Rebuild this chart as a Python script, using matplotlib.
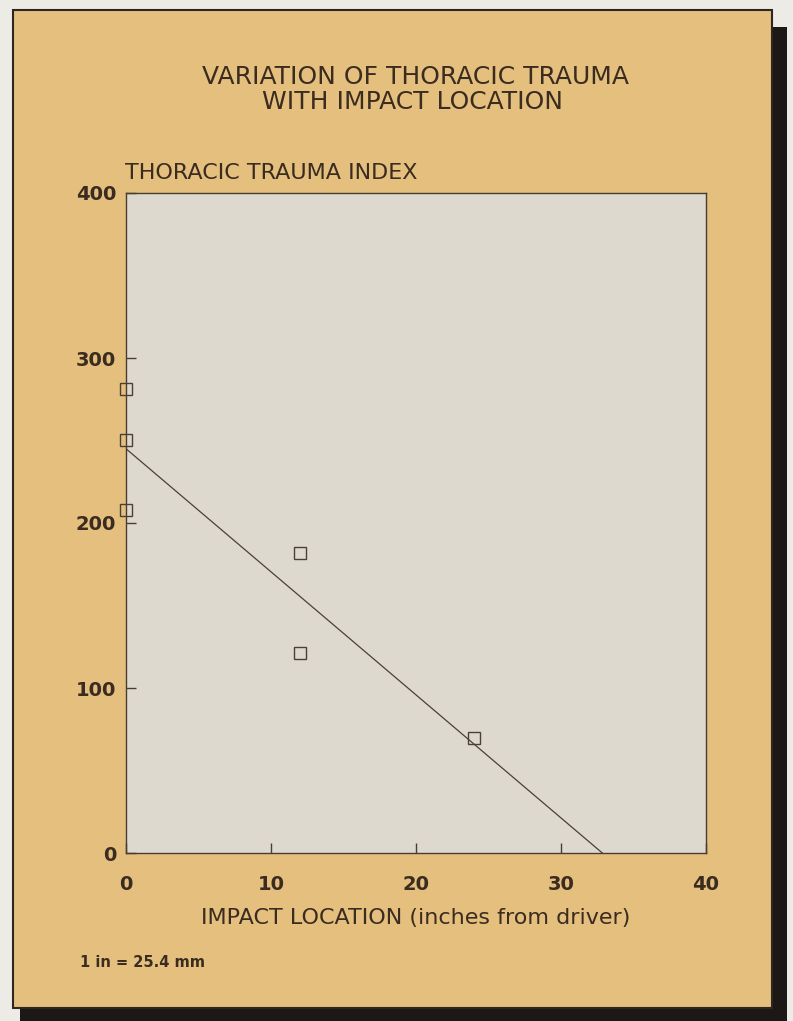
import numpy as np
import matplotlib
matplotlib.use('Agg')
from matplotlib import pyplot as plt
from matplotlib.patches import Rectangle

plt.rcParams['font.family'] = ['DejaVu Sans']

# Data
impact_location = [0, 0, 0, 12, 12, 24]
trauma_index = [281, 250, 208, 182, 121, 70]
x_ticks = [0, 10, 20, 30, 40]
y_ticks = [0, 100, 200, 300, 400]

ink = '#3B2C20'

W, H = 793, 1021
fig = plt.figure(figsize=(W / 100, H / 100), dpi=100)
fig.patch.set_facecolor('#ECEBE6')

# card with drop shadow
fig.add_artist(Rectangle((20 / W, 0), (787 - 20) / W, (H - 27) / H, transform=fig.transFigure,
                         facecolor='#1C1815', edgecolor='none', zorder=-2))
fig.add_artist(Rectangle((13 / W, 1 - 1008 / H), (772 - 13) / W, (1008 - 10) / H, transform=fig.transFigure,
                         facecolor='#E4BF7E', edgecolor='#2E2620', lw=1.5, zorder=-1))

ax = fig.add_axes([126 / W, 1 - 853 / H, 580 / W, 660 / H])
ax.set_facecolor('#DDD9CF')

# least squares line through the points, drawn down to zero
slope, intercept = np.polyfit(impact_location, trauma_index, 1)
x_end = -intercept / slope
ax.plot([0, x_end], [intercept, 0], color='#4A4038', lw=0.9)

ax.plot(impact_location, trauma_index, linestyle='none', marker='s', markersize=9,
        markerfacecolor='none', markeredgecolor='#4A4038', markeredgewidth=1.0, clip_on=False)

ax.set_xlim(0, 40)
ax.set_ylim(0, 400)
ax.set_xticks(x_ticks)
ax.set_yticks(y_ticks)
for side in ['left', 'bottom', 'right', 'top']:
	ax.spines[side].set_color('#4A3C30')
	ax.spines[side].set_linewidth(1.0)
ax.tick_params(axis='both', direction='in', length=7, width=1, color='#4A3C30', labelcolor=ink, labelsize=14)
ax.tick_params(axis='x', pad=16)
ax.tick_params(axis='y', pad=7)
for label in ax.get_xticklabels() + ax.get_yticklabels():
	label.set_fontweight('bold')

fig.text(415 / W, 1 - 77 / H, 'VARIATION OF THORACIC TRAUMA', ha='center', va='center', fontsize=18, color=ink)
fig.text(412 / W, 1 - 102 / H, 'WITH IMPACT LOCATION', ha='center', va='center', fontsize=18, color=ink)
fig.text(125 / W, 1 - 173 / H, 'THORACIC TRAUMA INDEX', ha='left', va='center', fontsize=16, color=ink)
fig.text(416 / W, 1 - 918 / H, 'IMPACT LOCATION (inches from driver)', ha='center', va='center', fontsize=16, color=ink)
fig.text(80 / W, 1 - 962 / H, '1 in = 25.4 mm', ha='left', va='center', fontsize=10.5, fontweight='bold', color=ink)

fig.savefig('out.png', dpi=100, facecolor=fig.get_facecolor())
